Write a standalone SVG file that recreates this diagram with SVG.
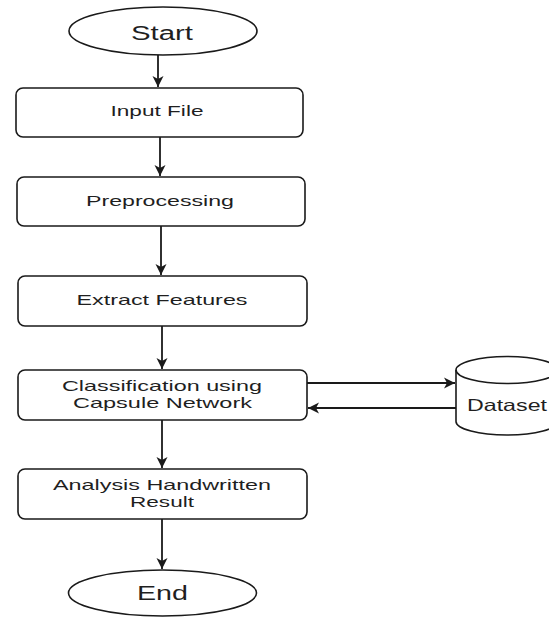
<svg xmlns="http://www.w3.org/2000/svg" width="549" height="617" viewBox="0 0 549 617">
<style>
.shape{fill:#ffffff;stroke:#1a1a1a;stroke-width:1.6}
.edge{fill:none;stroke:#1a1a1a;stroke-width:1.8}
.t{font-family:"Liberation Sans",Arial,sans-serif;fill:#1f1f1f;text-anchor:middle}
.b{font-size:14.5px}
.big{font-size:20px}
</style>
<defs>
<marker id="arr" markerUnits="userSpaceOnUse" markerWidth="14" markerHeight="14" refX="12" refY="7" orient="auto">
<path d="M1,1.5 L12,7 L1,12.5 L4,7 Z" fill="#1a1a1a"/>
</marker>
</defs>
<rect width="549" height="617" fill="#ffffff"/>
<g id="connectors">
<line class="edge" x1="158" y1="55" x2="158" y2="87" marker-end="url(#arr)"/>
<line class="edge" x1="160" y1="137" x2="160" y2="176" marker-end="url(#arr)"/>
<line class="edge" x1="161" y1="226" x2="161" y2="275" marker-end="url(#arr)"/>
<line class="edge" x1="162" y1="326" x2="162" y2="369" marker-end="url(#arr)"/>
<line class="edge" x1="307" y1="383" x2="455" y2="383" marker-end="url(#arr)"/>
<line class="edge" x1="456" y1="408" x2="308" y2="408" marker-end="url(#arr)"/>
<line class="edge" x1="162" y1="420" x2="162" y2="468" marker-end="url(#arr)"/>
<line class="edge" x1="162" y1="519" x2="162" y2="569" marker-end="url(#arr)"/>
</g>
<g id="start">
<ellipse class="shape" cx="163" cy="31" rx="94" ry="24"/>
<text class="t big" x="162" y="40" textLength="62" lengthAdjust="spacingAndGlyphs">Start</text>
</g>
<g id="input-file">
<rect class="shape" x="16" y="88" width="287" height="49" rx="7"/>
<text class="t b" x="157" y="116" textLength="93" lengthAdjust="spacingAndGlyphs">Input File</text>
</g>
<g id="preprocessing">
<rect class="shape" x="17" y="177" width="288" height="49" rx="7"/>
<text class="t b" x="160" y="206" textLength="148" lengthAdjust="spacingAndGlyphs">Preprocessing</text>
</g>
<g id="extract-features">
<rect class="shape" x="18" y="276" width="289" height="50" rx="7"/>
<text class="t b" x="162" y="305" textLength="171" lengthAdjust="spacingAndGlyphs">Extract Features</text>
</g>
<g id="classification">
<rect class="shape" x="18" y="370" width="289" height="50" rx="7"/>
<text class="t b" x="162" y="391" textLength="200" lengthAdjust="spacingAndGlyphs">Classification using</text>
<text class="t b" x="162.5" y="408" textLength="179" lengthAdjust="spacingAndGlyphs">Capsule Network</text>
</g>
<g id="dataset">
<path class="shape" d="M456,370 A51,13.5 0 0 1 558,370 V421.5 A51,13.5 0 0 1 456,421.5 Z"/>
<path class="shape" style="fill:none" d="M456,370 A51,13.5 0 0 0 558,370"/>
<text class="t" style="font-size:16.5px" x="507" y="411" textLength="80" lengthAdjust="spacingAndGlyphs">Dataset</text>
</g>
<g id="analysis">
<rect class="shape" x="18" y="469" width="289" height="50" rx="7"/>
<text class="t b" x="162" y="490" textLength="218" lengthAdjust="spacingAndGlyphs">Analysis Handwritten</text>
<text class="t b" x="162" y="507" textLength="64" lengthAdjust="spacingAndGlyphs">Result</text>
</g>
<g id="end">
<ellipse class="shape" cx="162.5" cy="593" rx="94" ry="23"/>
<text class="t big" x="162.5" y="600" textLength="51" lengthAdjust="spacingAndGlyphs">End</text>
</g>
</svg>
